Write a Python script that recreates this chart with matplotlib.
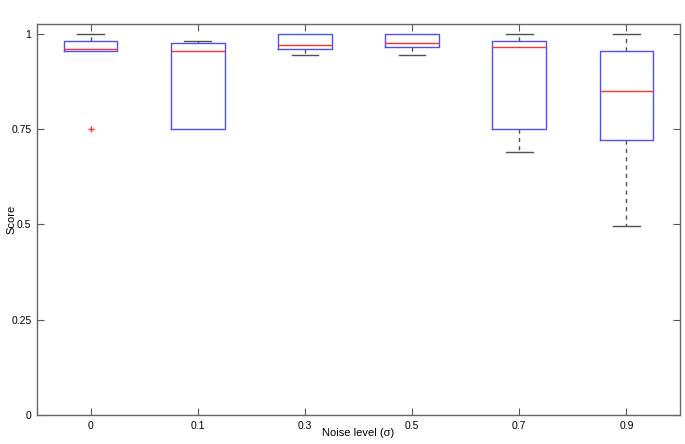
import matplotlib
matplotlib.use("Agg")
import matplotlib.pyplot as plt

# box statistics (MATLAB-style boxplot)
noise_labels = ["0", "0.1", "0.3", "0.5", "0.7", "0.9"]
q1 = [0.954, 0.750, 0.959, 0.964, 0.750, 0.720]
med = [0.959, 0.954, 0.970, 0.975, 0.965, 0.850]
q3 = [0.980, 0.975, 1.000, 1.000, 0.980, 0.954]
whislo = [0.954, 0.750, 0.944, 0.944, 0.689, 0.495]
whishi = [1.000, 0.980, 1.000, 1.000, 1.000, 1.000]
fliers = [[0.75], [], [], [], [], []]

y_ticks = [0, 0.25, 0.5, 0.75, 1]
y_ticklabels = ["0", "0.25", "0.5", "0.75", "1"]

plt.rcParams["font.family"] = ["Liberation Sans", "DejaVu Sans"]

stats = []
for i, lab in enumerate(noise_labels):
    stats.append(dict(label=lab, q1=q1[i], med=med[i], q3=q3[i],
                      whislo=whislo[i], whishi=whishi[i], fliers=fliers[i]))

fig = plt.figure(figsize=(6.85, 4.44), dpi=100)
ax = fig.add_axes([0.054, 0.0653, 0.9387, 0.8807])

bp = ax.bxp(stats, widths=0.5, capwidths=0.25, showfliers=True)

# MATLAB-ish colours; boxes on top of caps that coincide with box edges
plt.setp(bp["whiskers"], color="#505050", linewidth=1.0, linestyle=(0, (3, 3)), zorder=2)
plt.setp(bp["caps"], color="#505050", linewidth=1.0, zorder=2)
plt.setp(bp["boxes"], color="#5050f0", linewidth=1.0, zorder=3)
plt.setp(bp["medians"], color="#ff3030", linewidth=1.0, zorder=4)
plt.setp(bp["fliers"], marker="+", markeredgecolor="#ff3030", markersize=5,
         markeredgewidth=1.0, linestyle="none")

# caps sitting exactly on a box edge are hidden behind it in the original
for i in range(len(noise_labels)):
    if whislo[i] == q1[i]:
        bp["caps"][2 * i].set_visible(False)
    if whishi[i] == q3[i]:
        bp["caps"][2 * i + 1].set_visible(False)

ax.set_xlim(0.5, len(noise_labels) + 0.5)
ax.set_ylim(0, 1.025)
ax.set_yticks(y_ticks)
ax.set_yticklabels(y_ticklabels)

ax.tick_params(direction="in", length=5, width=0.8, color="#555555",
               labelsize=7.5, top=True, right=True, pad=4)
for s in ax.spines.values():
    s.set_color("#666666")
    s.set_linewidth(1.0)

ax.set_xlabel("Noise level (σ)", fontsize=8)
ax.set_ylabel("Score", fontsize=8)
ax.xaxis.set_label_coords(0.5, -0.046)
ax.xaxis.label.set_va("center")
ax.yaxis.set_label_coords(-0.039, 0.5)
ax.yaxis.label.set_va("center")

fig.savefig("out.png", dpi=100)
